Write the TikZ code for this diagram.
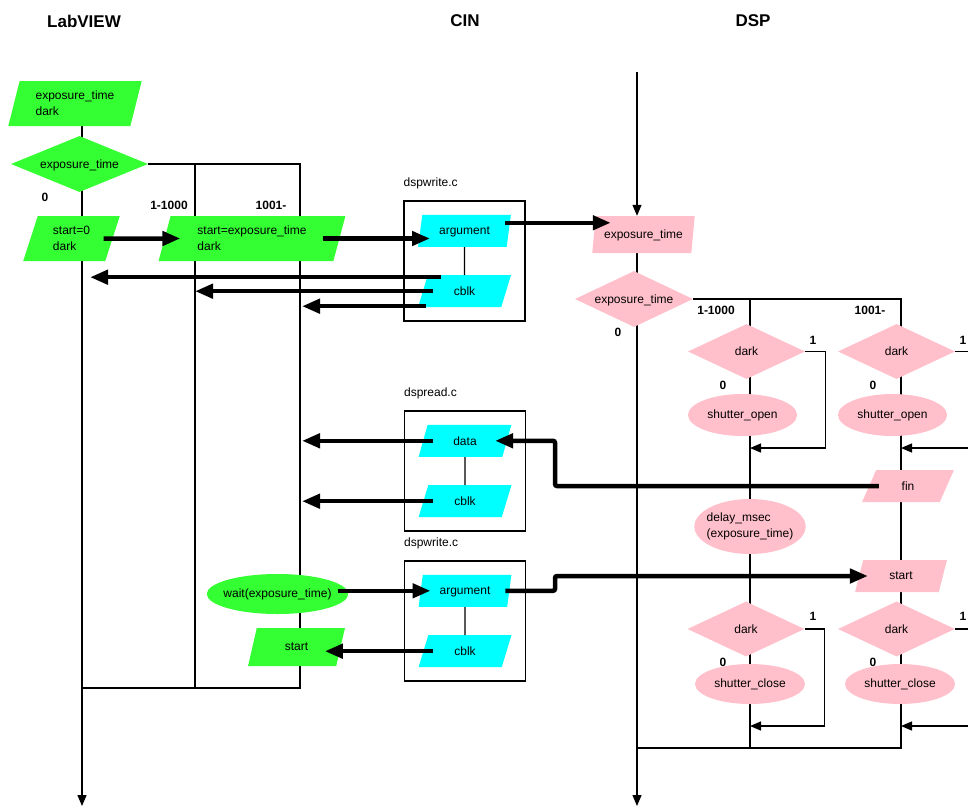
\documentclass[tikz,border=0pt]{standalone}
\usepackage{fontspec}
\setmainfont{Liberation Sans}
\usetikzlibrary{positioning, arrows.meta, shapes.geometric, backgrounds}
\definecolor{lvgreen}{HTML}{33FF33}
\definecolor{cincyan}{HTML}{00FFFF}
\definecolor{dsppink}{HTML}{FFC0CB}

\begin{document}
\begin{tikzpicture}[
  x=1pt, y=-1pt,
  font=\fontsize{12}{16}\selectfont,
  node distance=28pt,
  io/.style={trapezium, trapezium left angle=72, trapezium right angle=108,
             trapezium stretches=true, inner sep=0pt, align=left},
  lvio/.style={io, fill=lvgreen, minimum height=45pt},
  cinio/.style={io, fill=cincyan, minimum width=93pt, minimum height=32pt,
                text depth=0pt},
  dspio/.style={io, fill=dsppink, minimum width=92pt, minimum height=32pt,
                text depth=0pt},
  test/.style={diamond, inner sep=0pt, minimum width=117pt, minimum height=55pt,
               text depth=0pt},
  lvtest/.style={test, fill=lvgreen, aspect=2.45},
  dsptest/.style={test, fill=dsppink, aspect=2.1},
  proc/.style={ellipse, inner xsep=-4pt, inner ysep=0pt, align=left,
               minimum height=42pt},
  lvproc/.style={proc, fill=lvgreen},
  dspproc/.style={proc, fill=dsppink},
  cbox/.style={draw, line width=1.2pt, minimum width=121pt, minimum height=120pt},
  fname/.style={anchor=south west, inner sep=0pt},
  lbl/.style={font=\fontsize{12}{14}\selectfont\bfseries, inner sep=0pt},
  head/.style={font=\fontsize{17}{20}\selectfont\bfseries, inner sep=0pt},
  link/.style={line width=1.3pt},
  linkarr/.style={link, -{Triangle[length=11pt, width=9pt]}},
  flow/.style={-{Triangle[length=18pt, width=14pt]}, line width=4.5pt}
]
\useasboundingbox (0,0) rectangle (968,808);

\node[head] (hlv) at (84,21) {LabVIEW};
\node[head] (hcin) at (465,21) {CIN};
\node[head] (hdsp) at (753,21) {DSP};

\node[lvio, minimum width=134pt] (lvin) at (75,103.5) {exposure\_time\\dark};
\node[lvtest, minimum width=137pt, minimum height=56pt] (lvsel) at (79.5,164) {exposure\_time};
\node[lvio, minimum width=97pt] (st0) at (71.5,238.5) {start=0\\dark};
\node[lvio, minimum width=187pt] (stexp) at (252,238.5) {start=exposure\_time\\dark};
\node[lvproc, minimum width=139pt, minimum height=40pt] (wait) at (277.5,594) {wait(exposure\_time)};
\node[lvio, minimum width=97pt, minimum height=38pt] (lvstart) at (296.5,647) {start};

\node[lbl] (lv0) at (45,197) {0};
\node[lbl] (lvk) at (169,205) {1-1000};
\node[lbl] (lvm) at (271,205) {1001-};

\node[cbox] (box1) at (464.5,261) {};
\node[cinio, above=14pt of box1.center] (arg1) {argument};
\node[cinio, below=of arg1] (cb1) {cblk};
\node[fname] (fn1) at ([yshift=11pt]box1.north west) {dspwrite.c};

\node[cbox] (box2) at (465,471) {};
\node[cinio, above=14pt of box2.center] (data) {data};
\node[cinio, below=of data] (cb2) {cblk};
\node[fname] (fn2) at ([yshift=11pt]box2.north west) {dspread.c};

\node[cbox] (box3) at (465,621) {};
\node[cinio, above=14pt of box3.center] (arg2) {argument};
\node[cinio, below=of arg2] (cb3) {cblk};
\node[fname] (fn3) at ([yshift=11pt]box3.north west) {dspwrite.c};

\node[dspio, minimum width=103pt, minimum height=37pt] (dspin) at (643.5,234.5) {exposure\_time};
\node[dsptest, minimum width=118pt, minimum height=56pt] (dspsel) at (634,299) {exposure\_time};
\node[dsptest] (dkA) at (746.5,351.5) {dark};
\node[dspproc, minimum width=109pt] (opA) at (742.5,415) {shutter\_open};
\node[dspproc, minimum width=110pt, minimum height=55pt] (dly) at (750,526.5) {delay\_msec\\(exposure\_time)};
\node[dsptest] (dkA2) at (746,629) {dark};
\node[dspproc, minimum width=110pt, minimum height=40pt] (clA) at (750,684) {shutter\_close};
\node[dsptest] (dkB) at (896.5,351.5) {dark};
\node[dspproc, minimum width=109pt] (opB) at (892.5,415) {shutter\_open};
\node[dspio] (fin) at (908,486) {fin};
\node[dspio] (stB) at (901,576) {start};
\node[dsptest] (dkB2) at (896.5,629) {dark};
\node[dspproc, minimum width=110pt, minimum height=40pt] (clB) at (900,684) {shutter\_close};

\node[lbl] (ds0) at (618,332) {0};
\node[lbl] (dsk) at (716,310) {1-1000};
\node[lbl] (dsm) at (870,310) {1001-};
\node[lbl] (dkA1) at (813,340) {1};
\node[lbl] (dkA0) at (723,385) {0};
\node[lbl] (dkB1) at (963,340) {1};
\node[lbl] (dkB0) at (873,385) {0};
\node[lbl] (dkC1) at (813,616) {1};
\node[lbl] (dkC0) at (723,662) {0};
\node[lbl] (dkD1) at (963,616) {1};
\node[lbl] (dkD0) at (873,662) {0};

\coordinate (lvend) at (82,806);
\coordinate (lvB) at (195,164);
\coordinate (lvC) at (300,164);
\coordinate (lvJ) at (82,688);
\coordinate (dspsrc) at (637,72);
\coordinate (dspend) at (637,806);
\coordinate (dsB) at (750,299);
\coordinate (dsC) at (901,299);
\coordinate (dsJ) at (637,748);
\coordinate (mA1) at (750,448);
\coordinate (mB1) at (901,448);
\coordinate (mA2) at (750,726);
\coordinate (mB2) at (901,726);
\coordinate (jog) at (555,0);

\begin{scope}[on background layer]
\draw[linkarr] (lvin.south -| lvend) -- (lvend);
\draw[link] (lvsel.east) -- (lvC) -- (lvC |- lvJ) -- (lvJ);
\draw[link] (lvB) -- (lvB |- lvJ);
\draw[linkarr] (dspsrc |- dspin.south) -- (dspend);
\draw[link] (dspsel.east) -- (dsC) -- (dsC |- dsJ) -- (dsJ);
\draw[link] (dsB) -- (dsB |- dsJ);
\end{scope}

\draw[link] (arg1) -- (cb1);
\draw[link] (data) -- (cb2);
\draw[link] (arg2) -- (cb3);
\draw[linkarr] (dspsrc) -- (dspsrc |- dspin.north);
\draw[linkarr] (dkA.east) -- ++(20,0) |- (mA1);
\draw[linkarr] (dkB.east) -- ++(20,0) |- (mB1);
\draw[linkarr] (dkA2.east) -- ++(20,0) |- (mA2);
\draw[linkarr] (dkB2.east) -- ++(20,0) |- (mB2);

\coordinate (a1o) at ([yshift=8pt]arg1.east);
\coordinate (c1a) at ([yshift=14pt]cb1.west);
\coordinate (c1c) at ([yshift=-15pt]cb1.west);
\draw[flow, shorten <=-9pt, shorten >=-16pt] (st0.east) -- (stexp.west);
\draw[flow, shorten <=-17pt, shorten >=-10pt] (stexp.east) -- (stexp.east -| arg1.west);
\draw[flow, shorten <=-4pt, shorten >=-17pt] (a1o) -- (a1o -| dspin.west);
\draw[flow, shorten <=-18pt, shorten >=8pt] (c1a) -- (c1a -| lvend);
\draw[flow, shorten <=-10pt] (cb1.west) -- (cb1.west -| lvB);
\draw[flow, shorten <=-3pt, shorten >=2pt] (c1c) -- (c1c -| lvC);
\draw[flow, shorten <=-10pt, shorten >=2pt] (data.west) -- (data.west -| lvC);
\draw[flow, shorten <=-10pt, shorten >=2pt] (cb2.west) -- (cb2.west -| lvC);
\draw[flow, rounded corners=2pt, shorten <=-10pt, shorten >=-12pt] (fin.west) -- (fin.west -| jog) |- (data.east);
\draw[flow, shorten <=-10pt, shorten >=-10pt] (arg2.west -| wait.east) -- (arg2.west);
\draw[flow, rounded corners=2pt, shorten <=-4pt, shorten >=-9pt] (arg2.east) -- (arg2.east -| jog) |- (stB.west);
\draw[flow, shorten <=-10pt, shorten >=-16pt] (cb3.west) -- (cb3.west -| lvstart.east);
\end{tikzpicture}
\end{document}
